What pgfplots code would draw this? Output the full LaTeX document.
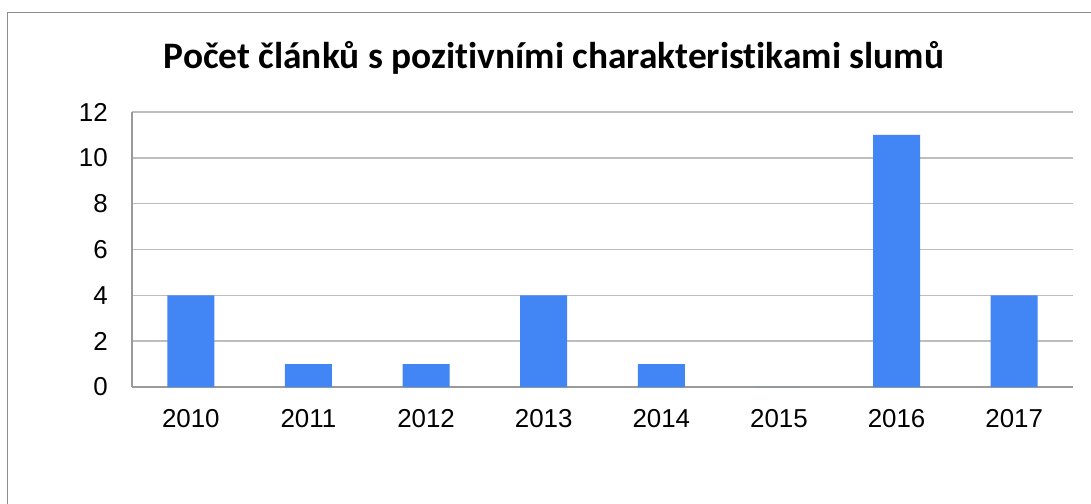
\documentclass[border=0pt]{standalone}
\usepackage{fontspec}
\setmainfont{Liberation Sans}
\newfontfamily\titlefont[Ligatures=NoCommon]{Carlito}
\usepackage{pgfplots}
\pgfplotsset{compat=1.18}
\definecolor{barblue}{HTML}{4285F4}
\definecolor{gridgray}{HTML}{BDBDBD}
\definecolor{axgray}{HTML}{9A9A9A}
\definecolor{framegray}{HTML}{8C8C8C}
\begin{document}
\begin{tikzpicture}
\path[use as bounding box] (0,0) rectangle (1091bp,-504bp);
\fill[white] (0,0) rectangle (1091bp,-504bp);
\draw[framegray, line width=1.5bp] (7.5bp,-510bp) -- (7.5bp,-12.5bp) -- (1100bp,-12.5bp);
\node[anchor=base, inner sep=0pt] at (554bp,-68bp) {\titlefont\bfseries\fontsize{37.5}{42}\selectfont Počet článků s pozitivními charakteristikami slumů};
\begin{axis}[
  at={(132bp,-387bp)}, anchor=south west,
  scale only axis, width=941bp, height=275bp,
  xmin=-0.5, xmax=7.5, ymin=0, ymax=12,
  xtick={0,...,7},
  xticklabels={2010,2011,2012,2013,2014,2015,2016,2017},
  ytick={0,2,4,6,8,10,12},
  major tick length=0pt,
  axis lines*=left,
  axis line style={axgray, line width=1.5bp, -},
  ymajorgrids, grid style={gridgray, line width=1.5bp},
  /pgf/number format/assume math mode=true,
  tick label style={font=\fontsize{26}{26}\selectfont, inner sep=0pt},
  yticklabel style={anchor=east, xshift=-24bp},
  xticklabel style={anchor=north, yshift=-22bp},
]
\addplot[ybar, bar width=0.4, fill=barblue, draw=none] coordinates {
  (0,4) (1,1) (2,1) (3,4) (4,1) (5,0) (6,11) (7,4)
};
\end{axis}
\end{tikzpicture}
\end{document}
